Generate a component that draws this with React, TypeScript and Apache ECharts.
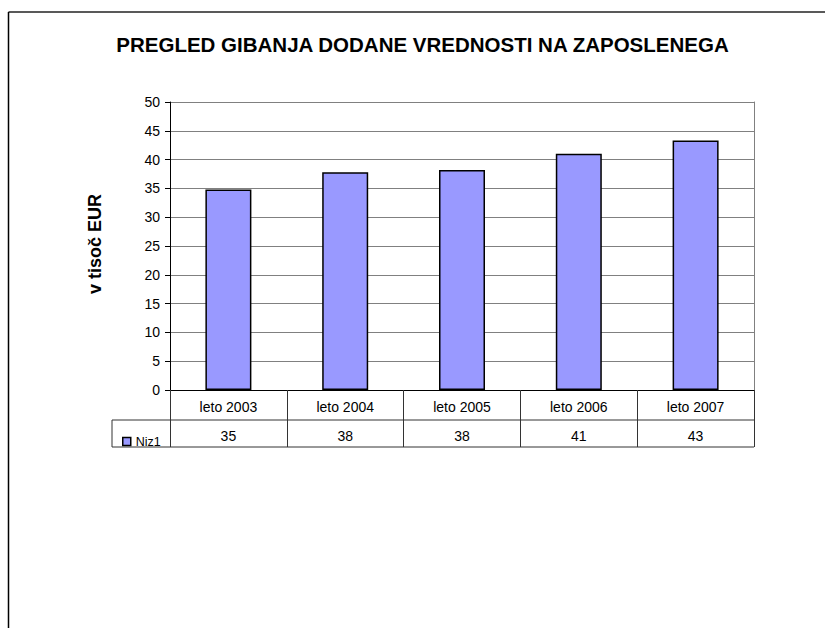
import React, { useEffect, useRef } from "react";
import * as echarts from "echarts";

const title = "PREGLED GIBANJA DODANE VREDNOSTI NA ZAPOSLENEGA";
const yName = "v tisoč EUR";
const seriesName = "Niz1";
const categories = ["leto 2003", "leto 2004", "leto 2005", "leto 2006", "leto 2007"];
const values = [34.8, 37.8, 38.2, 41.0, 43.3];
const tableLabels = ["35", "38", "38", "41", "43"];
const yMin = 0;
const yMax = 50;
const yInterval = 5;

const FONT = "'Liberation Sans', Arial, Helvetica, sans-serif";

export default function App() {
  const ref = useRef<HTMLDivElement>(null);
  useEffect(() => {
    if (!ref.current) return;
    const chart = echarts.init(ref.current, undefined, { renderer: "svg" });
    const gridLeft = 170;
    const gridRight = 754;
    const gridTop = 102;
    const gridBottom = 390;
    const option: any = {
      animation: false,
      backgroundColor: "#ffffff",
      textStyle: { fontFamily: FONT },
      grid: {
        left: gridLeft,
        top: gridTop,
        right: 825 - gridRight,
        bottom: 628 - gridBottom,
        containLabel: false,
      },
      legend: {
        show: true,
        left: 117,
        top: 430,
        itemWidth: 8,
        itemHeight: 8,
        itemGap: 5,
        icon: "rect",
        data: [seriesName],
        itemStyle: { color: "#9999FF", borderColor: "#000", borderWidth: 1.5 },
        textStyle: { fontSize: 12.5, color: "#000", fontFamily: FONT },
        selectedMode: false,
      },
      xAxis: {
        type: "category",
        data: categories,
        boundaryGap: true,
        axisLine: { show: true, lineStyle: { color: "#000", width: 1 } },
        axisTick: {
          show: true,
          length: 57,
          inside: false,
          alignWithLabel: false,
          interval: 0,
          lineStyle: { color: "#333", width: 1 },
        },
        axisLabel: {
          interval: 0,
          margin: 2,
          color: "#000",
          formatter: (value: string, index: number) =>
            `{a|${value}}\n{b|${tableLabels[index]}}`,
          rich: {
            a: { fontSize: 14, lineHeight: 29, fontFamily: FONT, color: "#000" },
            b: { fontSize: 14, lineHeight: 29, fontFamily: FONT, color: "#000" },
          },
        },
        splitLine: { show: false },
      },
      yAxis: [
        {
          type: "value",
          min: yMin,
          max: yMax,
          interval: yInterval,
          axisLine: { show: true, lineStyle: { color: "#000", width: 1 } },
          axisTick: { show: true, length: 5, inside: false, lineStyle: { color: "#000" } },
          axisLabel: { fontSize: 14, color: "#000", margin: 10, fontFamily: FONT },
          splitLine: { show: true, lineStyle: { color: "#808080", width: 1 } },
        },
        {
          type: "value",
          position: "right",
          min: yMin,
          max: yMax,
          interval: yInterval,
          axisLine: { show: true, lineStyle: { color: "#808080", width: 1 } },
          axisTick: { show: false },
          axisLabel: { show: false },
          splitLine: { show: false },
        },
      ],
      series: [
        {
          name: seriesName,
          type: "bar",
          yAxisIndex: 0,
          data: values,
          barWidth: 46,
          itemStyle: { color: "#9999FF", borderColor: "#000", borderWidth: 1.5 },
        },
      ],
      graphic: [
        {
          type: "line",
          shape: { x1: 8.5, y1: 12, x2: 825, y2: 12 },
          style: { stroke: "#222", lineWidth: 1.5 },
        },
        {
          type: "line",
          shape: { x1: 8.5, y1: 12, x2: 8.5, y2: 628 },
          style: { stroke: "#000", lineWidth: 1.5 },
        },
        {
          type: "line",
          shape: { x1: 112, y1: 420, x2: gridRight, y2: 420 },
          style: { stroke: "#333", lineWidth: 1 },
        },
        {
          type: "line",
          shape: { x1: 112, y1: 447, x2: gridRight, y2: 447 },
          style: { stroke: "#333", lineWidth: 1 },
        },
        {
          type: "line",
          shape: { x1: 112, y1: 420, x2: 112, y2: 447 },
          style: { stroke: "#333", lineWidth: 1 },
        },
        {
          type: "text",
          x: 422.5,
          y: 44,
          style: {
            text: title,
            align: "center",
            verticalAlign: "middle",
            fontSize: 20.5,
            fontWeight: "bold",
            fontFamily: FONT,
            fill: "#000",
          },
        },
        {
          type: "text",
          x: 95,
          y: 244,
          rotation: Math.PI / 2,
          style: {
            text: yName,
            align: "center",
            verticalAlign: "middle",
            fontSize: 18,
            fontWeight: "bold",
            fontFamily: FONT,
            fill: "#000",
          },
        },
      ],
    };
    chart.setOption(option);
    return () => chart.dispose();
  }, []);
  return (
    <div
      ref={ref}
      style={{ position: "absolute", left: 0, top: 0, width: 825, height: 628 }}
    />
  );
}
